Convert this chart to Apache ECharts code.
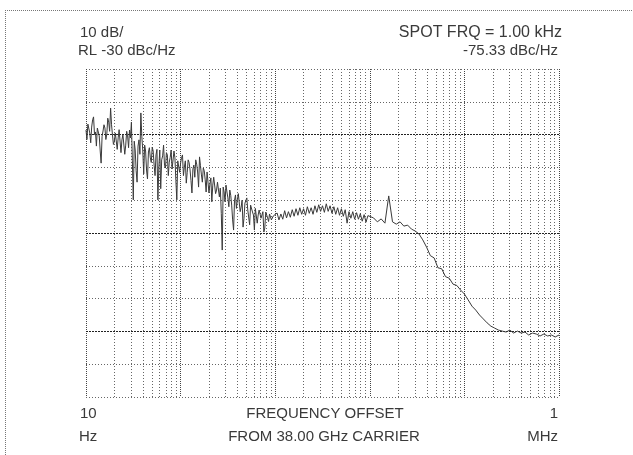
<!DOCTYPE html>
<html>
<head>
<meta charset="utf-8">
<script src="https://cdn.jsdelivr.net/npm/echarts@6/dist/echarts.min.js"></script>
<style>
html,body{margin:0;padding:0;background:#fff;}
#c{width:633px;height:455px;}
</style>
</head>
<body>
<div id="c"></div>
<script>
// Frequency offset (Hz) and phase noise level (dBc/Hz)
const freqLow = [10, 10.47, 10.96, 11.48, 12.02, 12.59, 13.18, 13.8, 14.45, 15.14, 15.85, 16.6, 17.38, 18.2, 19.05, 19.95, 20.89, 21.88, 22.91, 23.99, 25.12, 26.3, 27.54, 28.84, 30.2, 31.62, 33.11, 34.67, 36.31, 38.02, 39.81, 41.69, 43.65, 45.71, 47.86, 50.12, 52.48, 54.95, 57.54, 60.26, 63.1, 66.07, 69.18, 72.44, 75.86, 79.43, 83.18, 87.1, 91.2, 95.5,
  100, 104.7, 109.6, 114.8, 120.2, 125.9, 131.8, 138, 144.5, 151.4, 158.5, 166, 173.8, 182, 190.5, 199.5, 208.9, 218.8, 229.1, 239.9, 251.2, 263, 275.4, 288.4, 302, 316.2, 331.1, 346.7, 363.1, 380.2, 398.1, 416.9, 436.5, 457.1, 478.6, 501.2, 524.8, 549.5, 575.4, 602.6, 631, 660.7, 691.8, 724.4, 758.6, 794.3, 831.8, 871, 912, 955];
const levelLow = [-48.6, -46.8, -49.5, -47.7, -44.6, -49.2, -48.0, -50.4, -58.7, -48.9, -48.0, -49.8, -46.2, -41.9, -50.1, -52.0, -49.2, -51.0, -48.0, -51.6, -49.5, -53.2, -50.4, -48.6, -46.2, -69.9, -54.7, -64.5, -51.6, -43.4, -54.7, -53.2, -60.8, -55.3, -57.1, -53.8, -59.3, -56.2, -69.9, -54.7, -57.7, -53.2, -60.2, -56.2, -58.4, -54.7, -60.8, -57.1, -69.9, -57.7,
  -58.7, -56.2, -59.9, -64.8, -57.7, -60.8, -67.8, -59.3, -57.7, -61.4, -56.8, -62.3, -60.2, -63.8, -61.4, -67.8, -63.2, -65.4, -62.6, -66.9, -64.8, -66.3, -85.2, -67.5, -65.4, -69.3, -66.9, -71.5, -79.1, -68.4, -69.9, -67.5, -72.1, -78.2, -70.9, -69.3, -73.0, -71.5, -73.6, -79.1, -72.4, -74.5, -73.0, -75.4, -79.7, -73.6, -75.4, -74.2, -76.0, -74.8];
const freqLowB = [10.23, 10.72, 11.22, 11.75, 12.3, 12.88, 13.49, 14.13, 14.79, 15.49, 16.22, 16.98, 17.78, 18.62, 19.5, 20.42, 21.38, 22.39, 23.44, 24.55, 25.7, 26.92, 28.18, 29.51, 30.9, 32.36, 33.88, 35.48, 37.15, 38.9, 40.74, 42.66, 44.67, 46.77, 48.98, 51.29, 53.7, 56.23, 58.88, 61.66, 64.57, 67.61, 70.79, 74.13, 77.62, 81.28, 85.11, 89.13, 93.33, 97.72,
  102.3, 107.2, 112.2, 117.5, 123, 128.8, 134.9, 141.3, 147.9, 154.9, 162.2, 169.8, 177.8, 186.2, 195, 204.2, 213.8, 223.9, 234.4, 245.5, 257, 269.2, 281.8, 295.1, 309, 323.6, 338.8, 354.8, 371.5, 389, 407.4, 426.6, 446.7, 467.7, 489.8, 512.9, 537, 562.3, 588.8, 616.6, 645.7, 676.1, 707.9, 741.3, 776.2, 812.8, 851.1, 891.3, 933.3, 977.2];
const levelLowB = [-51.5, -47.0, -52.5, -45.5, -50.0, -53.5, -47.5, -55.0, -50.5, -47.0, -51.5, -45.0, -49.0, -47.0, -53.0, -49.5, -54.5, -48.5, -55.5, -50.0, -56.0, -49.0, -54.0, -51.0, -58.0, -52.0, -61.0, -53.5, -56.0, -50.5, -62.0, -55.0, -63.5, -54.0, -58.5, -55.0, -62.5, -54.5, -60.0, -66.5, -56.5, -59.5, -55.5, -62.5, -57.0, -60.5, -55.0, -64.0, -58.0, -61.5,
  -57.0, -62.5, -58.0, -61.5, -58.5, -64.0, -60.5, -63.0, -59.0, -66.0, -59.5, -64.5, -61.0, -67.5, -62.0, -65.0, -70.5, -63.0, -68.0, -64.5, -69.0, -74.0, -66.0, -70.5, -67.5, -72.0, -68.5, -76.0, -70.0, -72.5, -68.0, -73.5, -70.0, -75.5, -71.0, -73.0, -77.5, -72.0, -74.5, -72.5, -77.0, -73.0, -75.5, -73.5, -78.5, -74.0, -76.5, -74.0, -76.0, -74.5];
const freqMid = [1000, 1047, 1096, 1148, 1202, 1259, 1318, 1380, 1445, 1514, 1585, 1660, 1738, 1820, 1905, 1995, 2089, 2188, 2291, 2399, 2512, 2630, 2754, 2884, 3020, 3162, 3311, 3467, 3631, 3802, 3981, 4169, 4365, 4571, 4786, 5012, 5248, 5495, 5754, 6026, 6310, 6607, 6918, 7244, 7586, 7943, 8318, 8710, 9120, 9550];
const levelMid = [-75.33, -73.9, -76.0, -74.2, -75.8, -73.2, -75.4, -73.5, -75.2, -72.9, -74.9, -72.6, -74.6, -72.3, -74.3, -72.6, -74.6, -72.0, -74.0, -72.3, -74.3, -71.7, -73.7, -71.4, -73.4, -71.7, -73.7, -71.1, -73.4, -71.7, -74.0, -72.0, -74.3, -72.3, -74.6, -72.6, -74.9, -72.9, -77.0, -73.5, -75.5, -73.5, -75.8, -73.8, -75.8, -74.1, -76.4, -74.4, -76.7, -74.7];
const freqHigh = [10000, 10960, 12020, 13180, 14450, 15850, 17380, 19050, 20890, 22910, 25120, 27540, 30200, 33110, 36310, 39810, 43650, 47860, 52480, 57540, 63100, 69180, 75860, 83180, 91200, 100000, 109600, 120200, 131800, 144500, 158500, 173800, 190500, 208900, 229100, 251200, 275400, 302000, 331100, 363100, 398100, 436500, 478600, 524800, 575400, 631000, 691800, 758600, 831800, 912000, 1000000];
const levelHigh = [-76.0, -75.4, -76.6, -75.7, -77.0, -68.7, -76.6, -77.3, -76.6, -77.9, -77.6, -78.8, -79.4, -80.3, -82.1, -84.3, -86.9, -87.6, -90.6, -90.9, -93.3, -93.8, -95.6, -96.0, -97.4, -98.6, -100.4, -102.3, -103.5, -105.0, -106.2, -107.4, -108.4, -109.0, -109.6, -109.9, -110.2, -109.6, -110.5, -109.9, -110.5, -110.2, -111.1, -110.5, -110.8, -111.4, -110.8, -111.4, -111.1, -111.7, -111.1];

// Minor log grid positions (Hz)
const minorGridHz = [20, 30, 40, 50, 60, 70, 80, 90, 200, 300, 400, 500, 600, 700, 800, 900, 2000, 3000, 4000, 5000, 6000, 7000, 8000, 9000, 20000, 30000, 40000, 50000, 60000, 70000, 80000, 90000, 200000, 300000, 400000, 500000, 600000, 700000, 800000, 900000];
const darkGridDb = [-50, -80, -110];

// Text
const topLeft = ['10 dB/', 'RL -30 dBc/Hz'];
const topRight = ['SPOT FRQ = 1.00 kHz', '-75.33 dBc/Hz'];
const bottomLeft = ['10', 'Hz'];
const bottomCenter = ['FREQUENCY OFFSET', 'FROM 38.00 GHz CARRIER'];
const bottomRight = ['1', 'MHz'];

const pts = [];
freqLow.forEach((f, i) => pts.push([f, levelLow[i]]));
freqLowB.forEach((f, i) => pts.push([f, levelLowB[i]]));
freqMid.forEach((f, i) => pts.push([f, levelMid[i]]));
freqHigh.forEach((f, i) => { if (i > 0) pts.push([f, levelHigh[i]]); });
pts.sort((a, b) => a[0] - b[0]);

const chart = echarts.init(document.getElementById('c'), null, {renderer: 'canvas'});
const FONT = '"Liberation Sans", Arial, sans-serif';
const TXT = '#3a3a3a';
function txt(x, y, s, align, size) {
  return {type: 'text', x: x, y: y, style: {text: s, fill: TXT, font: (size || 15) + 'px ' + FONT, textAlign: align, textVerticalAlign: 'middle'}};
}
const gridLine = {color: '#666', width: 1, type: [1, 2]};

chart.setOption({
  animation: false,
  backgroundColor: '#fff',
  grid: {left: 86, right: 74, top: 69, bottom: 58, show: false},
  xAxis: {
    type: 'log', logBase: 10, min: 10, max: 1000000,
    axisLine: {show: false}, axisTick: {show: false}, axisLabel: {show: false},
    splitLine: {show: true, showMinLine: true, showMaxLine: true, lineStyle: {color: '#444', width: 1, type: [1, 1]}}
  },
  yAxis: {
    type: 'value', min: -130, max: -30, interval: 10,
    axisLine: {show: false}, axisTick: {show: false}, axisLabel: {show: false},
    splitLine: {show: true, showMinLine: true, showMaxLine: true, lineStyle: gridLine}
  },
  series: [{
    type: 'line', data: pts, showSymbol: false, symbol: 'none',
    lineStyle: {color: '#3a3a3a', width: 1},
    z: 5,
    markLine: {
      silent: true, symbol: 'none', animation: false,
      label: {show: false},
      lineStyle: gridLine,
      data: minorGridHz.map(v => ({xAxis: v})).concat(
        darkGridDb.map(v => ({yAxis: v, lineStyle: {color: '#222', width: 1, type: [2, 1]}})))
    }
  }],
  graphic: [
    {type: 'line', shape: {x1: 5, y1: 10.5, x2: 633, y2: 10.5}, style: {stroke: '#777', lineWidth: 1, lineDash: [1, 1]}},
    {type: 'line', shape: {x1: 5.5, y1: 10, x2: 5.5, y2: 455}, style: {stroke: '#777', lineWidth: 1, lineDash: [1, 1]}},
    txt(80, 33, topLeft[0], 'left'),
    txt(78, 51, topLeft[1], 'left'),
    txt(562, 33, topRight[0], 'right', 16),
    txt(558, 51, topRight[1], 'right'),
    txt(80, 414, bottomLeft[0], 'left'),
    txt(79, 437, bottomLeft[1], 'left'),
    txt(325, 414, bottomCenter[0], 'center'),
    txt(324, 437, bottomCenter[1], 'center'),
    txt(558, 414, bottomRight[0], 'right'),
    txt(558, 437, bottomRight[1], 'right')
  ]
});
</script>
</body>
</html>
